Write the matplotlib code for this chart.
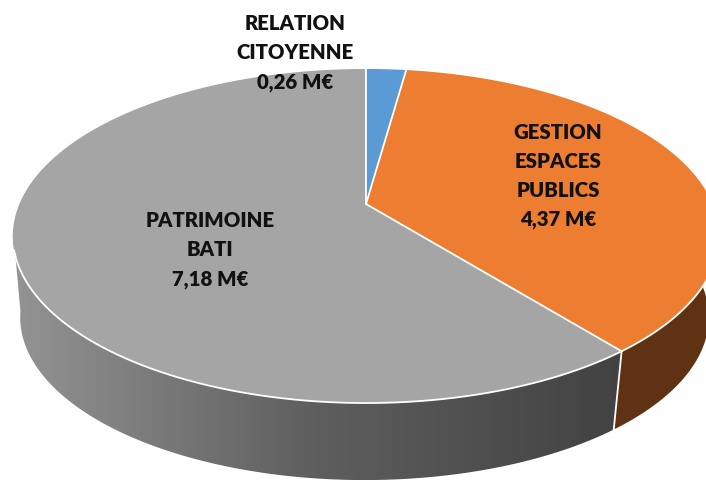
from __future__ import annotations

import matplotlib.pyplot as plt
from matplotlib.colors import LinearSegmentedColormap
from matplotlib.patches import Polygon
import numpy as np

categories = ["RELATION\nCITOYENNE", "GESTION\nESPACES\nPUBLICS", "PATRIMOINE\nBATI"]
values = [0.26, 4.37, 7.18]
colors = ["#5B9BD5", "#ED7D31", "#A5A5A5"]
label_centers = [(295, 53), (558, 176), (210, 250)]

ORANGE_SIDE = "#5F3214"
GREY_SIDE = ["#959595", "#5E5E5E", "#424242"]
WIDTH, HEIGHT = 706, 481
CX = 366
APEX_Y = 205
PERSP = 0.1916


def project(theta: np.ndarray, scale: float, y0: float, cx: float = CX) -> np.ndarray:
    # clockwise from 12 o'clock, tilted disc with some perspective
    u, v = np.sin(theta), np.cos(theta)
    w = 1 + PERSP * v
    return np.column_stack([cx + 346.6 * scale * u / w, y0 - 160.9 * scale * v / w])


def top(theta: np.ndarray) -> np.ndarray:
    return project(theta, 1.0, APEX_Y)


def bottom(theta: np.ndarray) -> np.ndarray:
    return project(theta, 0.975, 287, CX - 1.5)


def side_polygon(start: float, end: float) -> np.ndarray:
    theta = np.linspace(start, end, 200)
    return np.vstack([top(theta), bottom(theta[::-1])])


fig = plt.figure(figsize=(WIDTH / 100, HEIGHT / 100), dpi=100)
ax = fig.add_axes([0, 0, 1, 1])
ax.axis("off")

edges = 2 * np.pi * np.concatenate([[0], np.cumsum(values)]) / sum(values)

# sides: only the orange and grey slices face the viewer
left_limit = np.radians(261)
ax.add_patch(Polygon(side_polygon(np.radians(90), edges[2]), closed=True, fc=ORANGE_SIDE, ec="none", zorder=1))
grey_clip = Polygon(side_polygon(edges[2], left_limit), closed=True, fc="none", ec="none", zorder=2)
ax.add_patch(grey_clip)
grey_cmap = LinearSegmentedColormap.from_list("grey_side", GREY_SIDE)
gradient = ax.imshow(
    np.linspace(0, 1, 256).reshape(1, -1),
    cmap=grey_cmap,
    extent=(5, 625, HEIGHT, 200),
    aspect="auto",
    zorder=2,
)
gradient.set_clip_path(grey_clip)
ax.set_xlim(0, WIDTH)
ax.set_ylim(HEIGHT, 0)

# white seam between the two side faces
ax.plot(*np.vstack([top(edges[2:3]), bottom(edges[2:3])]).T, color="white", lw=1.3, zorder=3)

# top face
apex = np.array([[CX, APEX_Y]])
for start, end, color in zip(edges[:-1], edges[1:], colors):
    rim = top(np.linspace(start, end, 300))
    ax.add_patch(Polygon(np.vstack([apex, rim]), closed=True, fc=color, ec="none", zorder=4))

# white lines: slice borders and the front of the rim only
for edge in edges[:3]:
    ends = np.vstack([apex, top(np.array([edge]))])
    ax.plot(ends[:, 0], ends[:, 1], color="white", lw=1.3, solid_capstyle="round", zorder=5)
front = top(np.linspace(np.radians(100), left_limit - 0.12, 400))
ax.plot(front[:, 0], front[:, 1], color="white", lw=1.3, zorder=5)

for name, value, (x, y) in zip(categories, values, label_centers):
    label = f"{name}\n{value:.2f} M€".replace(".", ",")
    ax.text(
        x,
        y,
        label,
        ha="center",
        va="center",
        family="Lato",
        fontweight="heavy",
        fontsize=14.7,
        linespacing=1.61,
        color="#111111",
        zorder=6,
    )

fig.savefig("out.png", dpi=100)
